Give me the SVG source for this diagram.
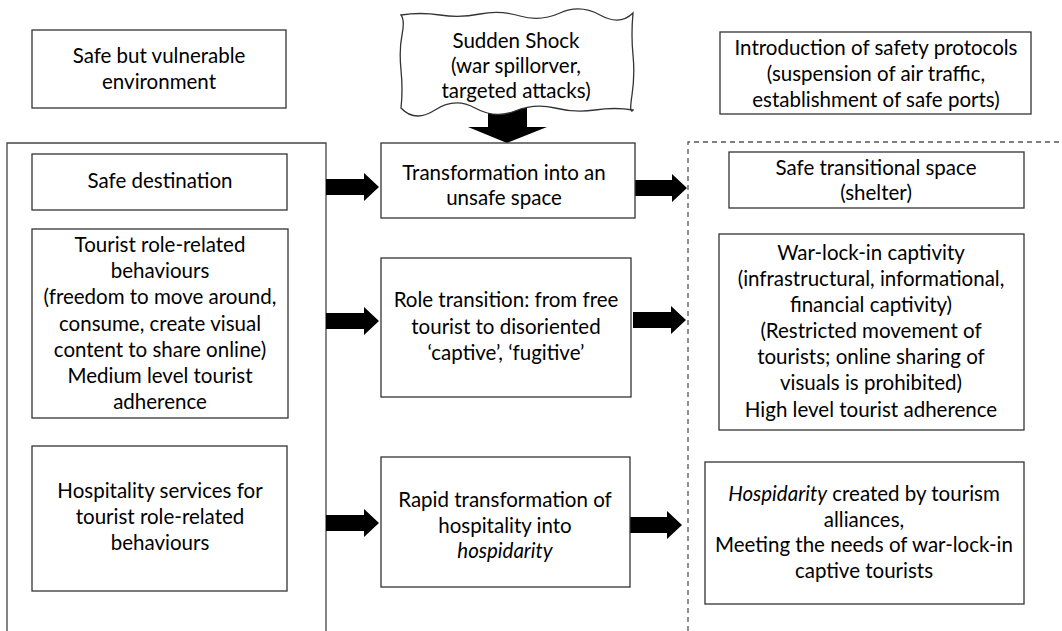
<svg xmlns="http://www.w3.org/2000/svg" xmlns:xlink="http://www.w3.org/1999/xlink" width="1062" height="631" viewBox="0 0 1062 631">
<style>
.box{fill:#fff;stroke:#333;stroke-width:1.3}
.frame{fill:none;stroke:#444;stroke-width:1.3}
.dash{fill:none;stroke:#555;stroke-width:1.3;stroke-dasharray:5 4}
text{font-family:Lato,"Open Sans",sans-serif;font-size:20.5px;fill:#000;text-anchor:middle}
.it{font-style:italic}
.arr{fill:#000}
</style>
<defs>
<path id="arr" d="M0,-8 H38 V-14 L53,0 L38,14 V8 H0 Z"/>
</defs>
<rect width="1062" height="631" fill="#fff"/>
<g id="frames">
<path class="frame" d="M7,631 V143 H326 V631"/>
<path class="dash" d="M688,631 V142 H1062"/>
</g>
<g id="connectors">
<path class="arr" d="M488,108 H527 V127 H547 L507,143 L468,127 H488 Z"/>
<use class="arr" xlink:href="#arr" transform="translate(326,187)"/>
<use class="arr" xlink:href="#arr" transform="translate(634,188)"/>
<use class="arr" xlink:href="#arr" transform="translate(326,321)"/>
<use class="arr" xlink:href="#arr" transform="translate(633,320)"/>
<use class="arr" xlink:href="#arr" transform="translate(326,523)"/>
<use class="arr" xlink:href="#arr" transform="translate(629,525)"/>
</g>
<g id="n-vulnerable">
<rect class="box" x="32" y="30" width="254" height="78"/>
<text x="159" y="63">Safe but vulnerable</text>
<text x="159" y="89">environment</text>
</g>
<g id="n-shock">
<path class="box" d="M401,15 Q420,12 440,15 T480,14 T520,16 T560,13 T600,15 T633,13 Q631,35 633,55 T632,95 T633,110 Q615,107 595,110 T555,108 T515,111 T475,108 T435,110 T401,108 Q403,90 401,70 T402,35 T401,15 Z"/>
<text x="516" y="48">Sudden Shock</text>
<text x="516" y="73">(war spillorver,</text>
<text x="516" y="98">targeted attacks)</text>
</g>
<g id="n-protocols">
<rect class="box" x="720" y="32" width="311" height="82"/>
<text x="876" y="55">Introduction of safety protocols</text>
<text x="876" y="81">(suspension of air traffic,</text>
<text x="876" y="107">establishment of safe ports)</text>
</g>
<g id="n-safe-dest">
<rect class="box" x="32" y="154" width="255" height="56"/>
<text x="160" y="188">Safe destination</text>
</g>
<g id="n-unsafe">
<rect class="box" x="381" y="143" width="254" height="75"/>
<text x="504" y="180">Transformation into an</text>
<text x="504" y="205">unsafe space</text>
</g>
<g id="n-shelter">
<rect class="box" x="729" y="152" width="295" height="56"/>
<text x="876" y="175">Safe transitional space</text>
<text x="876" y="200">(shelter)</text>
</g>
<g id="n-tourist-role">
<rect class="box" x="32" y="229" width="256" height="189"/>
<text x="160" y="252">Tourist role-related</text>
<text x="160" y="278">behaviours</text>
<text x="160" y="304">(freedom to move around,</text>
<text x="160" y="331">consume, create visual</text>
<text x="160" y="357">content to share online)</text>
<text x="160" y="383">Medium level tourist</text>
<text x="160" y="409">adherence</text>
</g>
<g id="n-role-transition">
<rect class="box" x="381" y="258" width="250" height="139"/>
<text x="506" y="307">Role transition: from free</text>
<text x="506" y="334">tourist to disoriented</text>
<text x="506" y="360">‘captive’, ‘fugitive’</text>
</g>
<g id="n-captivity">
<rect class="box" x="719" y="234" width="305" height="196"/>
<text x="871" y="260">War-lock-in captivity</text>
<text x="871" y="286">(infrastructural, informational,</text>
<text x="871" y="312">financial captivity)</text>
<text x="871" y="338">(Restricted movement of</text>
<text x="871" y="364">tourists; online sharing of</text>
<text x="871" y="390">visuals is prohibited)</text>
<text x="871" y="417">High level tourist adherence</text>
</g>
<g id="n-hospitality">
<rect class="box" x="32" y="446" width="255" height="145"/>
<text x="160" y="498">Hospitality services for</text>
<text x="160" y="524">tourist role-related</text>
<text x="160" y="550">behaviours</text>
</g>
<g id="n-rapid">
<rect class="box" x="381" y="457" width="249" height="130"/>
<text x="505" y="507">Rapid transformation of</text>
<text x="505" y="533">hospitality into</text>
<text x="505" y="558" class="it">hospidarity</text>
</g>
<g id="n-hospidarity">
<rect class="box" x="705" y="462" width="319" height="142"/>
<text x="864" y="501"><tspan class="it">Hospidarity</tspan> created by tourism</text>
<text x="864" y="527">alliances,</text>
<text x="864" y="552">Meeting the needs of war-lock-in</text>
<text x="864" y="578">captive tourists</text>
</g>
</svg>
